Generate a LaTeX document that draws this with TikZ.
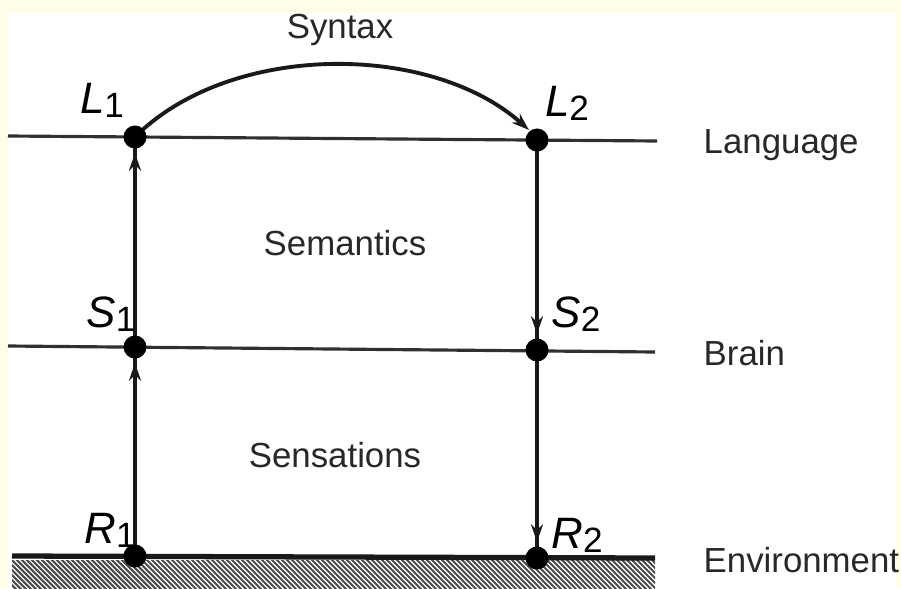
\documentclass[tikz,border=0pt]{standalone}
\usepackage{fontspec}
\setmainfont{Liberation Sans}
\usetikzlibrary{arrows.meta,calc}
\definecolor{bgyellow}{RGB}{255,253,232}
\definecolor{ink}{RGB}{25,25,25}
\definecolor{txt}{RGB}{40,40,40}
\newcommand{\lbl}[2]{{\fontsize{12.5}{14}\selectfont\itshape #1}\raisebox{-0.12em}{\fontsize{10}{12}\selectfont #2}}
\tikzset{
  level/.style={draw=ink!90, line width=0.9pt},
  vline/.style={draw=ink, line width=1pt},
  dot/.style={circle, fill=black, inner sep=0pt, minimum size=0.23cm},
  arr/.style={-{Stealth[length=5pt,width=3.4pt]}, draw=ink, line width=1pt},
  word/.style={text=txt, font=\fontsize{9.9}{12}\selectfont, inner sep=0pt},
  lab/.style={text=black, inner sep=0pt}
}
\begin{document}
\begin{tikzpicture}[x=0.01cm,y=-0.01cm]
\useasboundingbox (0,0) rectangle (901,588);
\fill[bgyellow] (0,0) rectangle (901,588);
\fill[white] (8,13) rectangle (896,588);
% hatching
\begin{scope}
\clip (12,560) rectangle (655,588);
\foreach \i in {-40,-35,...,660} \draw[gray!60!black, line width=0.6pt] (\i,558) -- ++(32,32);
\end{scope}
% coordinates
\coordinate (L1) at (135,137);
\coordinate (L2) at (537,140);
\coordinate (S1) at (135,347);
\coordinate (S2) at (537,350);
\coordinate (R1) at (135,556);
\coordinate (R2) at (537,558);
\coordinate (la) at (8,136);
\coordinate (lb) at (657,141);
\coordinate (ba) at (8,346);
\coordinate (bb) at (655,352);
\coordinate (ea) at (12,556);
\coordinate (eb) at (655,558);
% level lines
\draw[level] (la) -- (lb);
\draw[level] (ba) -- (bb);
\draw[draw=ink, line width=1.5pt] (ea) -- (eb);
% verticals
\draw[vline] (R1) -- (L1);
\draw[vline] (L2) -- (R2);
\draw[arr, shorten >=0.16cm] (R1) -- (S1);
\draw[arr, shorten >=0.16cm] (S1) -- (L1);
\draw[arr, shorten >=0.16cm] (L2) -- (S2);
\draw[arr, shorten >=0.16cm] (S2) -- (R2);
% syntax arc
\draw[arr, line width=1.1pt] (L1) .. controls (230,42) and (430,42) .. (529,130);
% dots
\foreach \p in {L1,L2,S1,S2,R1,R2} \node[dot] at (\p) {};
% labels
\node[lab] (tL1) at (102,100) {\lbl{L}{1}};
\node[lab] (tL2) at (567,103) {\lbl{L}{2}};
\node[lab] (tS1) at (111,314) {\lbl{S}{1}};
\node[lab] (tS2) at (576,314) {\lbl{S}{2}};
\node[lab] (tR1) at (110,530) {\lbl{R}{1}};
\node[lab] (tR2) at (577,535) {\lbl{R}{2}};
% words
\node[word] (syn) at (340,30) {Syntax};
\node[word] (sem) at (345,243) {Semantics};
\node[word] (sen) at (335,455) {Sensations};
\node[word, anchor=west] (lan) at (703,145) {Language};
\node[word, anchor=west] (bra) at (703,353) {Brain};
\node[word, anchor=west] (env) at (703,560) {Environment};
\end{tikzpicture}
\end{document}
